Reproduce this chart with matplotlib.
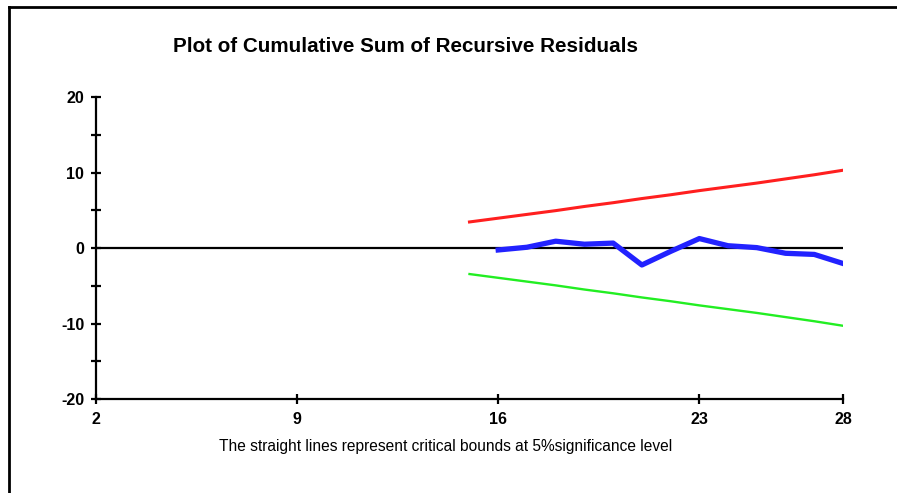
import matplotlib.pyplot as plt
from matplotlib.lines import Line2D

plt.rcParams['font.family'] = ['Liberation Sans', 'DejaVu Sans']
plt.rcParams['axes.unicode_minus'] = False

# observations
bound_t = [15, 16, 17, 18, 19, 20, 21, 22, 23, 24, 25, 26, 27, 28]
upper = [3.45, 3.95, 4.45, 4.95, 5.5, 6.0, 6.55, 7.05, 7.6, 8.1, 8.6, 9.15, 9.7, 10.3]
lower = [-v for v in upper]

cusum_t = [16, 17, 18, 19, 20, 21, 22, 23, 24, 25, 26, 27, 28]
cusum = [-0.26, 0.1, 0.9, 0.5, 0.65, -2.25, -0.45, 1.25, 0.3, 0.05, -0.7, -0.85, -2.05]

xticks = [2, 9, 16, 23, 28]
yticks = [-20, -10, 0, 10, 20]
yminor = [-15, -5, 5, 15]

fig = plt.figure(figsize=(8.97, 4.93), dpi=100)
ax = fig.add_axes([96/897, 1 - 399/493, (843 - 96)/897, (399 - 97)/493])

ax.plot([2, 28], [0, 0], color='black', lw=1.6)
ax.plot(bound_t, upper, color='#ff1f1f', lw=2.2)
ax.plot(bound_t, lower, color='#22ee22', lw=1.7)
ax.plot(cusum_t, cusum, color='#2222ff', lw=3.8)

ax.set_xlim(2, 28)
ax.set_ylim(-20, 20)
ax.set_xticks(xticks)
ax.set_yticks(yticks)
ax.set_yticks(yminor, minor=True)
for s in ['top', 'right']:
    ax.spines[s].set_visible(False)
for s in ['left', 'bottom']:
    ax.spines[s].set_linewidth(1.6)
ax.tick_params(axis='y', which='both', direction='inout', length=7, width=1.6, pad=5)
ax.tick_params(axis='x', which='both', direction='inout', length=7, width=1.6, pad=6)
for lbl in ax.get_xticklabels() + ax.get_yticklabels():
    lbl.set_fontweight('bold')
    lbl.set_fontsize(11.5)

fig.text(405/897, 1 - 47/493, 'Plot of Cumulative Sum of Recursive Residuals',
         ha='center', va='center', fontsize=14.9, fontweight='bold')
fig.text(446/897, 1 - 446/493,
         'The straight lines represent critical bounds at 5%significance level',
         ha='center', va='center', fontsize=11.2)

# frame around the picture (only left and top edges visible)
fig.add_artist(Line2D([8.5/897, 8.5/897], [0, 1 - 7/493], color='black', lw=2,
                      transform=fig.transFigure))
fig.add_artist(Line2D([8.5/897, 1], [1 - 7/493, 1 - 7/493], color='black', lw=2,
                      transform=fig.transFigure))

fig.savefig('out.png', dpi=100)
